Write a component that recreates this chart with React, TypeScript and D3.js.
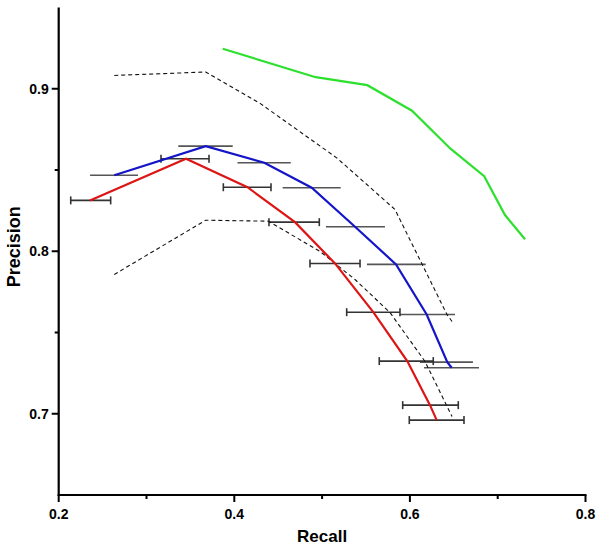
import React from "react";
import * as d3 from "d3";

// Recall (x) and Precision (y) values
const blueRecall = [0.2633, 0.3674, 0.4342, 0.4882, 0.5375, 0.5842, 0.6191, 0.6426, 0.6476];
const bluePrecision = [0.8468, 0.8647, 0.8545, 0.8391, 0.8151, 0.7919, 0.7611, 0.7318, 0.7283];
const blueRecallLo = [0.2357, 0.3362, 0.4036, 0.4551, 0.5044, 0.5511, 0.5887, 0.6115, 0.6161];
const blueRecallHi = [0.2903, 0.3982, 0.4643, 0.5212, 0.5716, 0.618, 0.6514, 0.6718, 0.6787];

const redRecall = [0.2356, 0.345, 0.415, 0.4691, 0.5147, 0.5583, 0.597, 0.6229, 0.6305];
const redPrecision = [0.8313, 0.8569, 0.8394, 0.8179, 0.7925, 0.7625, 0.7324, 0.7053, 0.6961];
const redRecallLo = [0.2137, 0.3165, 0.3875, 0.4395, 0.4862, 0.528, 0.5651, 0.5918, 0.5993];
const redRecallHi = [0.2592, 0.3712, 0.4418, 0.4968, 0.5432, 0.5887, 0.6266, 0.6551, 0.6616];

const greenRecall = [0.3868, 0.4927, 0.5515, 0.6024, 0.6462, 0.6846, 0.7083, 0.7311];
const greenPrecision = [0.9246, 0.9071, 0.9022, 0.8865, 0.8631, 0.8462, 0.8223, 0.8074];

const upperRecall = [0.2633, 0.3674, 0.4293, 0.5166, 0.583, 0.6422, 0.648];
const upperPrecision = [0.9082, 0.9103, 0.891, 0.8575, 0.8257, 0.7611, 0.7568];

const lowerRecall = [0.2633, 0.3674, 0.4387, 0.4976, 0.5375, 0.5773, 0.6172, 0.648];
const lowerPrecision = [0.7857, 0.8191, 0.8185, 0.7999, 0.7826, 0.7623, 0.7322, 0.6983];

const xMajorTicks = [0.2, 0.4, 0.6, 0.8];
const xMinorTicks = [0.3, 0.5, 0.7];
const yMajorTicks = [0.7, 0.8, 0.9];
const yMinorTicks = [0.75, 0.85];

const xLabel = "Recall";
const yLabel = "Precision";

export default function App() {
  const W = 605;
  const H = 549;
  const x = d3.scaleLinear().domain([0.2, 0.8]).range([58.7, 585.5]);
  const y = d3.scaleLinear().domain([0.65, 0.95]).range([495, 7.5]);

  const line = d3
    .line<[number, number]>()
    .x((d) => x(d[0]))
    .y((d) => y(d[1]));

  const zip = (a: number[], b: number[]) => a.map((v, i) => [v, b[i]] as [number, number]);

  const font = "'Liberation Sans', Arial, sans-serif";
  const x0 = x(0.2);
  const y0 = y(0.65);

  return (
    <svg
      width={W}
      height={H}
      style={{ position: "absolute", left: 0, top: 0, background: "#fff" }}
    >
      <rect x={0} y={0} width={W} height={H} fill="#fff" />
      {/* error bars */}
      {blueRecall.map((_, i) => (
        <line
          key={"be" + i}
          x1={x(blueRecallLo[i])}
          x2={x(blueRecallHi[i])}
          y1={y(bluePrecision[i])}
          y2={y(bluePrecision[i])}
          stroke="#555"
          strokeWidth={1.6}
        />
      ))}
      {redRecall.map((_, i) => {
        const yy = y(redPrecision[i]);
        return (
          <g key={"re" + i} stroke="#333" strokeWidth={1.6}>
            <line x1={x(redRecallLo[i])} x2={x(redRecallHi[i])} y1={yy} y2={yy} />
            <line x1={x(redRecallLo[i])} x2={x(redRecallLo[i])} y1={yy - 4} y2={yy + 4} />
            <line x1={x(redRecallHi[i])} x2={x(redRecallHi[i])} y1={yy - 4} y2={yy + 4} />
          </g>
        );
      })}
      {/* dashed bounds */}
      <path d={line(zip(upperRecall, upperPrecision)) || ""} fill="none" stroke="#111" strokeWidth={1.1} strokeDasharray="4,3" />
      <path d={line(zip(lowerRecall, lowerPrecision)) || ""} fill="none" stroke="#111" strokeWidth={1.1} strokeDasharray="4,3" />
      {/* series */}
      <path d={line(zip(greenRecall, greenPrecision)) || ""} fill="none" stroke="#2ee02e" strokeWidth={2.2} />
      <path d={line(zip(blueRecall, bluePrecision)) || ""} fill="none" stroke="#1515c8" strokeWidth={2.2} />
      <path d={line(zip(redRecall, redPrecision)) || ""} fill="none" stroke="#dd1515" strokeWidth={2.2} />

      {/* axes */}
      <line x1={x0} x2={x0} y1={y(0.95)} y2={y0 + 1} stroke="#000" strokeWidth={2.2} />
      <line x1={x0 - 1} x2={x(0.8) + 1} y1={y0} y2={y0} stroke="#000" strokeWidth={2.2} />
      {yMajorTicks.map((t) => (
        <g key={"ym" + t}>
          <line x1={x0 - 7} x2={x0} y1={y(t)} y2={y(t)} stroke="#000" strokeWidth={2} />
          <text
            x={x0 - 10}
            y={y(t)}
            dy="0.36em"
            textAnchor="end"
            fontFamily={font}
            fontWeight="bold"
            fontSize={14}
          >
            {d3.format(".1f")(t)}
          </text>
        </g>
      ))}
      {yMinorTicks.map((t) => (
        <line key={"yn" + t} x1={x0 - 4} x2={x0} y1={y(t)} y2={y(t)} stroke="#000" strokeWidth={2} />
      ))}
      {xMajorTicks.map((t) => (
        <g key={"xm" + t}>
          <line x1={x(t)} x2={x(t)} y1={y0} y2={y0 + 7} stroke="#000" strokeWidth={2} />
          <text
            x={x(t)}
            y={518.5}
            textAnchor="middle"
            fontFamily={font}
            fontWeight="bold"
            fontSize={14}
          >
            {d3.format(".1f")(t)}
          </text>
        </g>
      ))}
      {xMinorTicks.map((t) => (
        <line key={"xn" + t} x1={x(t)} x2={x(t)} y1={y0} y2={y0 + 4} stroke="#000" strokeWidth={2} />
      ))}
      <text
        x={(x(0.2) + x(0.8)) / 2}
        y={541.5}
        textAnchor="middle"
        fontFamily={font}
        fontWeight="bold"
        fontSize={17}
      >
        {xLabel}
      </text>
      <text
        transform={`translate(20,${246.7}) rotate(-90)`}
        textAnchor="middle"
        fontFamily={font}
        fontWeight="bold"
        fontSize={18}
      >
        {yLabel}
      </text>
    </svg>
  );
}
